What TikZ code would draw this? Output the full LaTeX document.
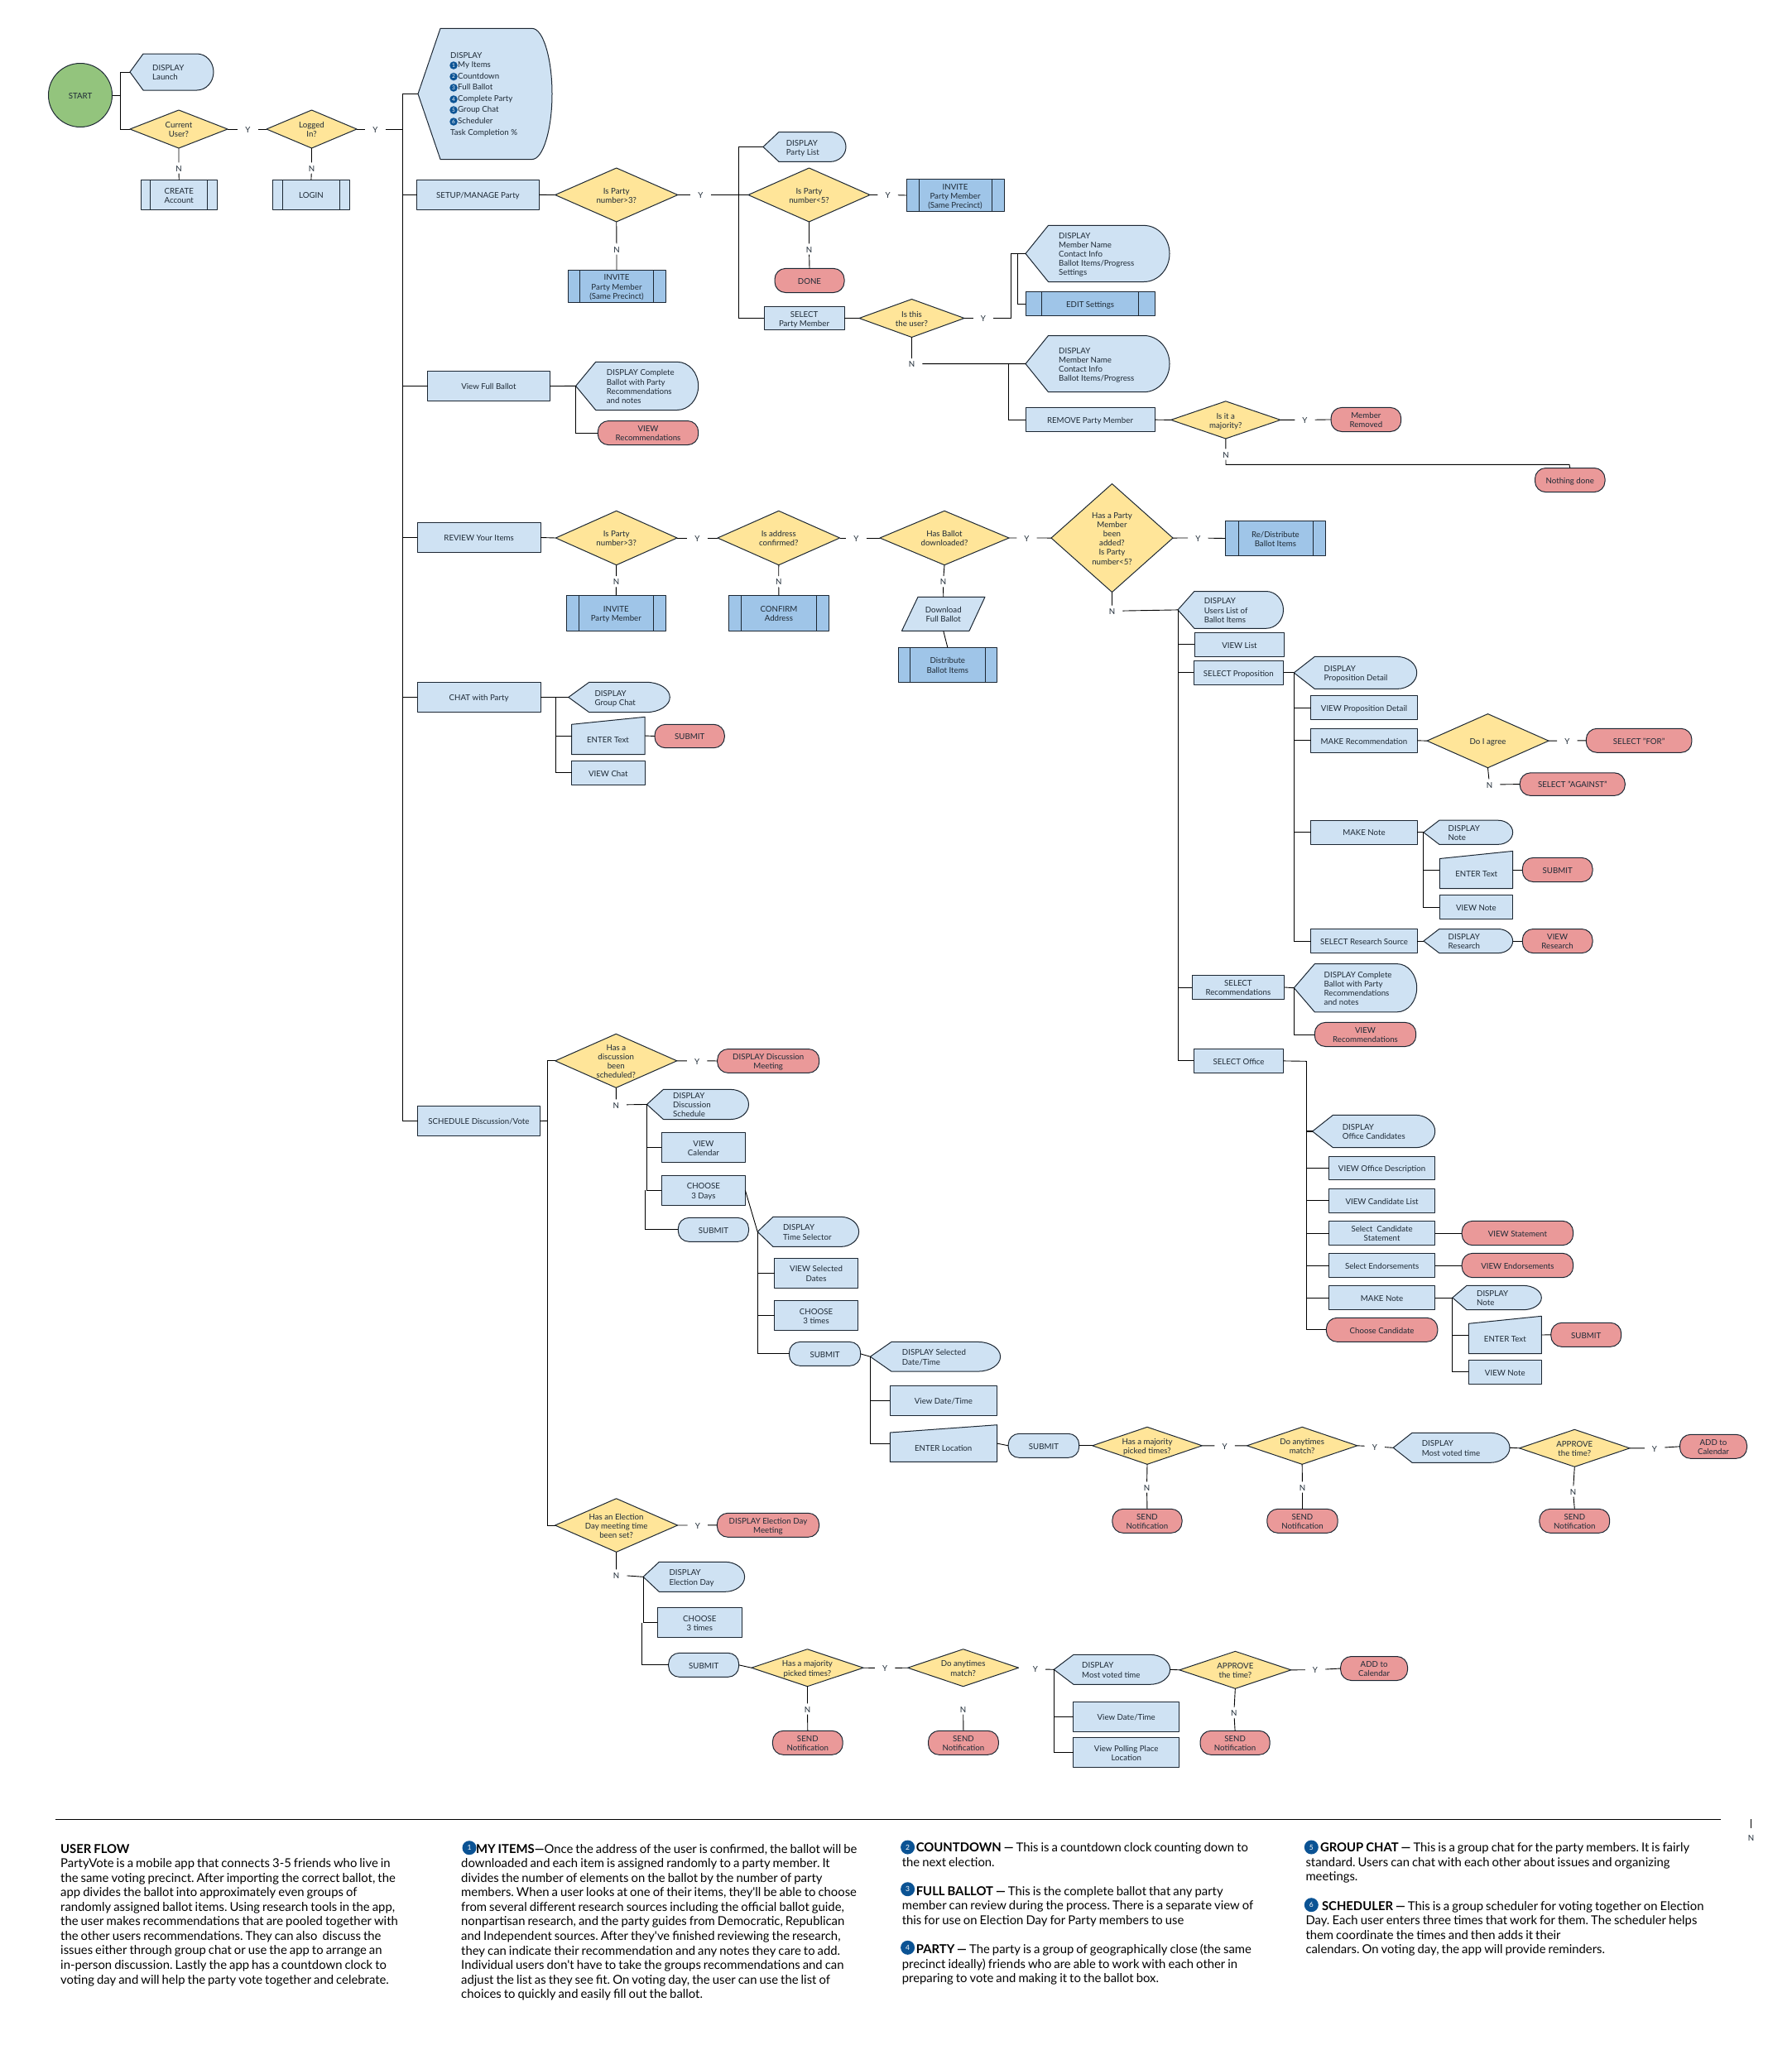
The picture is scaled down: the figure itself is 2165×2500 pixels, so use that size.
\documentclass[tikz,border=0pt]{standalone}
\usepackage{fontspec}
\setmainfont{Lato}
\newfontfamily\ftf[WordSpace=0.8]{Lato}
\usetikzlibrary{shapes.geometric}
\definecolor{lb}{HTML}{CFE2F3}
\definecolor{db}{HTML}{9FC5E8}
\definecolor{yl}{HTML}{FFE599}
\definecolor{rd}{HTML}{EA9999}
\definecolor{gn}{HTML}{93C47D}
\definecolor{nb}{HTML}{0B5394}
\definecolor{edge}{HTML}{1C2733}
\definecolor{txc}{HTML}{1E2A36}
\newcommand\dg{\fontsize{9.7}{11.15}\selectfont}
\newcommand\ft{\ftf\frenchspacing\fontsize{14.85}{17.55}\selectfont}
\newcommand\upr{\rule{0pt}{10.6pt}}
\newcommand\dnr{\rule[-2.2pt]{0pt}{0pt}}
\tikzset{
  x=1pt,y=-1pt,
  txt/.style={font=\dg,align=center,inner sep=0pt,text=txc},
  shp/.style={draw=edge,line width=1pt,line join=round},
  base/.style={shp,inner sep=0pt,outer sep=0pt,font=\dg,align=center,text=txc},
  lite/.style={base,fill=lb},
  dark/.style={base,fill=db},
  pillr/.style={base,fill=rd,rounded corners=13pt},
  pillb/.style={base,fill=lb,rounded corners=13pt},
  ynl/.style={txt,inner xsep=9pt,inner ysep=0pt},
  conn/.style={draw=black,line width=0.9pt},
  thk/.style={draw=black,line width=1.6pt},
  num/.style={circle,fill=nb,inner sep=0pt,minimum size=9.5pt,text=white,font=\fontsize{6.5}{6.5}\selectfont},
  numb/.style={circle,fill=nb,inner sep=0pt,minimum size=17pt,text=white,font=\fontsize{8.5}{8.5}\selectfont},
  foot/.style={font=\ft,align=left,inner sep=0pt,anchor=north west,text=black},
}
\newcommand\Pbox[7]{\node[#6,minimum width={#4-#2},minimum height={#5-#3}] (#1) at ({(#2+#4)/2},{(#3+#5)/2}) {\upr #7\dnr};}
\newcommand\Psub[9]{\node[#8,minimum width={#4-#2},minimum height={#5-#3}] (#1) at ({(#2+#4)/2},{(#3+#5)/2}) {\upr #9\dnr};
  \draw[shp] (#6,#3) -- (#6,#5) (#7,#3) -- (#7,#5);}
\newcommand\Pdisp[9]{%
  \draw[shp,fill=lb] (#2,{(#3+#5)/2}) -- (#6,#3) -- (#7,#3)
    .. controls ({#7+.55*(#4-#7)},#3) and (#4,{(#3+#5)/2-.275*(#5-#3)}) .. (#4,{(#3+#5)/2})
    .. controls (#4,{(#3+#5)/2+.275*(#5-#3)}) and ({#7+.55*(#4-#7)},#5) .. (#7,#5)
    -- (#6,#5) -- cycle;
  \node[inner sep=0pt,outer sep=0pt,minimum width={#4-#2},minimum height={#5-#3}] (#1) at ({(#2+#4)/2},{(#3+#5)/2}) {};
  \node[txt,align=left,anchor=west] (#1t) at (#8,{(#3+#5)/2}) {\upr #9\dnr};}
\newcommand\Pdia[6]{\node[diamond,shp,fill=yl,inner sep=0pt,outer sep=0pt,minimum width={#4-#2},minimum height={#5-#3}] (#1) at ({(#2+#4)/2},{(#3+#5)/2}) {};
  \node[txt] (#1t) at (#1.center) {\upr #6\dnr};}
\newcommand\Pman[9]{%
  \draw[shp,fill=lb] (#2,#3) -- (#5,#4) -- (#5,#6) -- (#2,#6) -- cycle;
  \node[inner sep=0pt,outer sep=0pt,minimum width={#5-#2},minimum height={#6-#4}] (#1) at ({(#2+#5)/2},{(#4+#6)/2}) {};
  \node[txt] (#1t) at (#7,#8) {\upr #9\dnr};}
\newcommand\Pyn[4]{\node[ynl] (#1) at (#2,#3) {\upr #4\dnr};}
\newcommand\Pln[3]{\node[txt,anchor=west] (#1) at #2 {\upr #3\dnr};}
\begin{document}
\begin{tikzpicture}
\useasboundingbox (0,0) rectangle (2165,2500);
% top left
\node[circle,base,fill=gn,minimum size=77pt] (start) at (97,115) {\upr START\dnr};
\Pdisp{dl}{157}{65}{258}{109}{173}{238}{184}{DISPLAY\\Launch}
\Pdia{cu}{157}{133}{275}{179}{Current\\User?}
\Pyn{y1}{299.5}{156}{Y}
\Pdia{li}{322}{133}{431}{179}{Logged\\In?}
\Pyn{y2}{453.5}{156}{Y}
\Pyn{n1}{216}{203}{N}
\Pyn{n2}{376.5}{203}{N}
\Psub{ca}{170}{217.4}{262.5}{253.4}{181}{250.4}{lite}{CREATE\\Account}
\Psub{login}{329.5}{217.4}{422.3}{253.4}{341.5}{410}{lite}{LOGIN}
\draw[shp,fill=lb] (505,113.4) -- (532,34.4) -- (643,34.4)
  .. controls (656.2,34.4) and (667,70.9) .. (667,113.4)
  .. controls (667,156) and (656.2,192.5) .. (643,192.5)
  -- (532,192.5) -- cycle;
\node[inner sep=0pt,outer sep=0pt,minimum width=162pt,minimum height=158.1pt] (md) at (586,113.4) {};
\Pln{mt0}{(544,66)}{DISPLAY}
\node[num] (c1) at (548,79) {1}; \Pln{mt1}{(553,77.7)}{My Items}
\node[num] (c2) at (548,92.6) {2}; \Pln{mt2}{(553,91)}{Countdown}
\node[num] (c3) at (548,106) {3}; \Pln{mt3}{(553,104.5)}{Full Ballot}
\node[num] (c4) at (548,120) {4}; \Pln{mt4}{(553,118)}{Complete Party}
\node[num] (c5) at (548,133) {5}; \Pln{mt5}{(553,131.6)}{Group Chat}
\node[num] (c6) at (548,147) {6}; \Pln{mt6}{(553,145.4)}{Scheduler}
\Pln{mt7}{(544,159)}{Task Completion \%}
% setup
\Pbox{setup}{503.5}{217.4}{651.3}{253.4}{lite}{SETUP/MANAGE Party}
\Pdia{p3}{670.7}{203}{818.8}{268}{Is Party\\number>3?}
\Pyn{y3}{846.3}{235.5}{Y}
\Pyn{n3}{745}{301}{N}
\Psub{inv0}{686}{326.3}{804}{365.4}{700.8}{789.5}{dark}{INVITE\\Party Member\\(Same Precinct)}
\Pdisp{plist}{922}{159.5}{1022}{195.4}{941}{1003}{949.6}{DISPLAY\\Party List}
\Pdia{p5}{904}{203}{1051}{268}{Is Party\\number<5?}
\Pyn{y4}{1072.7}{235.5}{Y}
\Psub{inv1}{1095}{216.5}{1213}{255.5}{1110}{1198.5}{dark}{INVITE\\Party Member\\(Same Precinct)}
\Pyn{n4}{977.5}{301}{N}
\Pbox{done}{936}{324.4}{1020}{353.5}{pillr}{DONE}
\Pbox{smem}{923}{370.3}{1020}{398.6}{lite}{SELECT\\Party Member}
\Pdia{iu}{1038}{361.5}{1165}{407.5}{Is this\\the user?}
\Pyn{y5}{1188}{384.5}{Y}
\Pdisp{dm1}{1239}{272.4}{1413}{340.5}{1266.5}{1382}{1279}{DISPLAY\\Member Name\\Contact Info\\Ballot Items/Progress\\Settings}
\Psub{edit}{1239}{352.3}{1395}{381.8}{1258}{1375}{dark}{EDIT Settings}
\Pyn{n5}{1101.5}{439.6}{N}
\Pdisp{dm2}{1239}{405.5}{1413}{473.7}{1266.5}{1382}{1279}{DISPLAY\\Member Name\\Contact Info\\Ballot Items/Progress}
\Pbox{rem}{1239}{492.8}{1395}{521.5}{lite}{REMOVE Party Member}
\Pdia{maj}{1414.6}{484.8}{1547}{530}{Is it a\\majority?}
\Pyn{y6}{1576.5}{507.4}{Y}
\Pbox{mrem}{1608}{492.4}{1692.7}{521.5}{pillr}{Member\\Removed}
\Pyn{n6}{1481}{549}{N}
\Pbox{nothing}{1854.5}{565.5}{1939}{594.6}{pillr}{Nothing done}
% full ballot
\Pbox{vf}{516.5}{448.5}{664.3}{484.5}{lite}{View Full Ballot}
\Pdisp{dcb}{695.6}{437.3}{843.7}{495.5}{719.7}{818}{732.7}{DISPLAY Complete\\Ballot with Party\\Recommendations\\and notes}
\Pbox{vrec}{722.3}{508.5}{843.7}{537.6}{pillr}{VIEW\\Recommendations}
% review
\Pbox{rv}{504.2}{631.3}{653}{667.7}{lite}{REVIEW Your Items}
\Pdia{q1}{671.4}{617.3}{818}{682.7}{Is Party\\number>3?}
\Pyn{y7}{842.3}{650}{Y}
\Pdia{q2}{867}{617.3}{1014.6}{682.7}{Is address\\confirmed?}
\Pyn{y8}{1034.4}{650}{Y}
\Pdia{q3}{1063}{617.3}{1219}{682.7}{Has Ballot\\downloaded?}
\Pyn{y9}{1240.5}{650}{Y}
\Pdia{q4}{1270}{584.6}{1417}{715.5}{Has a Party\\Member\\been\\added?\\Is Party\\number<5?}
\Pyn{y10}{1447.4}{650}{Y}
\Psub{redist}{1480.4}{629.3}{1601.4}{671.7}{1496.5}{1586}{dark}{Re/Distribute\\Ballot Items}
\Pyn{n7}{744.5}{702.7}{N}
\Psub{inv2}{684.6}{719.3}{804}{762.3}{699.3}{789.5}{dark}{INVITE\\Party Member}
\Pyn{n8}{940.7}{702.7}{N}
\Psub{conf}{880.4}{719.3}{1001.4}{762.3}{895}{986}{dark}{CONFIRM\\Address}
\Pyn{n9}{1139.5}{702.7}{N}
\draw[shp,fill=lb] (1109,721.3) -- (1190,721.3) -- (1171,762.3) -- (1089.5,762.3) -- cycle;
\node[inner sep=0pt,outer sep=0pt,minimum width=100.5pt,minimum height=41pt] (dlb) at (1139.75,741.8) {};
\node[txt] (dlbt) at (dlb.center) {\upr Download\\Full Ballot\dnr};
\Psub{dist}{1085}{782.3}{1204.6}{824.3}{1099.7}{1190}{dark}{Distribute\\Ballot Items}
\Pyn{n10}{1343.5}{738.3}{N}
% chat
\Pbox{chat}{504.2}{824.3}{653}{860.7}{lite}{CHAT with Party}
\Pdisp{dgc}{686.8}{824.3}{809.3}{860.7}{711.8}{780.7}{718.4}{DISPLAY\\Group Chat}
\Pman{et1}{690.5}{875.3}{866.3}{779.2}{911.7}{734.5}{893.7}{ENTER Text}
\Pbox{sb1}{791}{875.3}{875.3}{903.7}{pillr}{SUBMIT}
\Pbox{vchat}{690.5}{919.3}{779.2}{948.3}{lite}{VIEW Chat}
% ballot items
\Pdisp{users}{1423}{714.5}{1550.5}{759.3}{1442.9}{1529.6}{1454.6}{DISPLAY\\Users List of\\Ballot Items}
\Pbox{vl}{1443.4}{764.3}{1551.5}{793.4}{lite}{VIEW List}
\Pbox{sp}{1442.3}{798.4}{1550.5}{827.4}{lite}{SELECT Proposition}
\Pdisp{dpd}{1563.3}{793.4}{1711.7}{832.4}{1588.3}{1687.8}{1599.5}{DISPLAY\\Proposition Detail}
\Pbox{vpd}{1583.7}{840.4}{1712.3}{869.5}{lite}{VIEW Proposition Detail}
\Pbox{mr}{1583.7}{880.3}{1712.3}{909.3}{lite}{MAKE Recommendation}
\Pdia{agree}{1724}{862.6}{1871}{927.7}{Do I agree}
\Pyn{y11}{1893.3}{895.1}{Y}
\Pbox{sfor}{1916.3}{880.3}{2043.9}{909.3}{pillr}{SELECT "FOR"}
\Pyn{n11}{1799.5}{948}{N}
\Pbox{sag}{1836.2}{933.8}{1963.3}{961.4}{pillr}{SELECT "AGAINST"}
\Pbox{mn}{1583.7}{991.2}{1712.3}{1020.3}{lite}{MAKE Note}
\Pdisp{dn}{1719.9}{991.2}{1827.6}{1020.3}{1738.8}{1810}{1749.5}{DISPLAY\\Note}
\Pman{et2}{1739.3}{1037.5}{1028.4}{1827.6}{1073.5}{1783.7}{1055.5}{ENTER Text}
\Pbox{sb2}{1839.3}{1036.4}{1924}{1065.5}{pillr}{SUBMIT}
\Pbox{vn}{1739.3}{1081.5}{1827.6}{1110.6}{lite}{VIEW Note}
\Pbox{srs}{1583.7}{1122.5}{1712.3}{1151.6}{lite}{SELECT Research Source}
\Pdisp{dr}{1719.9}{1122.5}{1827.6}{1151.6}{1738.8}{1810}{1749.5}{DISPLAY\\Research}
\Pbox{vres}{1839.3}{1122.5}{1924}{1151.6}{pillr}{VIEW\\Research}
\Pbox{srec}{1440.3}{1178.4}{1551.5}{1207.5}{lite}{SELECT\\Recommendations}
\Pdisp{dcr}{1563.3}{1164.6}{1711.7}{1222.8}{1588.3}{1687.8}{1599.5}{DISPLAY Complete\\Ballot with Party\\Recommendations\\and notes}
\Pbox{vrc2}{1588.3}{1235.4}{1710.7}{1264.5}{pillr}{VIEW\\Recommendations}
\Pbox{so}{1442.4}{1267.4}{1550.7}{1296.4}{lite}{SELECT Office}
\Pdisp{doc}{1585.6}{1347.3}{1733.7}{1386.7}{1610.5}{1710}{1621.6}{DISPLAY\\Office Candidates}
\Pbox{vod}{1605.5}{1397.3}{1733.7}{1425.7}{lite}{VIEW Office Description}
\Pbox{vcl}{1605.5}{1436.3}{1733.7}{1465.3}{lite}{VIEW Candidate List}
\Pbox{scs}{1605.5}{1475.3}{1733.7}{1504.7}{lite}{Select~ Candidate\\Statement}
\Pbox{sen}{1605.5}{1514.3}{1733.7}{1543.7}{lite}{Select Endorsements}
\Pbox{mkn}{1605.5}{1553.3}{1733.7}{1582.7}{lite}{MAKE Note}
\Pbox{cc}{1602.4}{1592.3}{1736.8}{1621.3}{pillr}{Choose Candidate}
\Pbox{vs}{1766.2}{1475.3}{1900.6}{1504.7}{pillr}{VIEW Statement}
\Pbox{ve}{1766.2}{1514.3}{1900.6}{1543.7}{pillr}{VIEW Endorsements}
\Pdisp{dnn}{1754.8}{1553.3}{1862.3}{1582.7}{1772}{1840}{1783.9}{DISPLAY\\Note}
\Pman{et3}{1774.3}{1599.3}{1590.3}{1862.3}{1635.7}{1818.3}{1617.7}{ENTER Text}
\Pbox{sb3}{1873.8}{1598.3}{1958.7}{1627.3}{pillr}{SUBMIT}
\Pbox{vnn}{1774.3}{1643.3}{1862.3}{1672.3}{lite}{VIEW Note}
% schedule
\Pbox{sc}{504.5}{1336.4}{652.4}{1372.5}{lite}{SCHEDULE Discussion/Vote}
\Pdia{ds}{670.8}{1249.3}{817.8}{1314.3}{Has a\\discussion\\been\\scheduled?}
\Pyn{y12}{842.2}{1281.8}{Y}
\Pbox{ddm}{866.7}{1267.5}{989.7}{1296.4}{pillr}{DISPLAY Discussion\\Meeting}
\Pyn{n12}{744.3}{1335}{N}
\Pdisp{dds}{781.5}{1316.4}{904.5}{1352.5}{801.4}{883}{813}{DISPLAY\\Discussion\\Schedule}
\Pbox{vc}{799.4}{1368.2}{900.4}{1404.6}{lite}{VIEW\\Calendar}
\Pbox{cd}{799.4}{1420.3}{900.4}{1456.4}{lite}{CHOOSE\\3 Days}
\Pbox{sub1}{819.3}{1471.4}{904.5}{1500.3}{pillb}{SUBMIT}
\Pdisp{dts}{915.2}{1470.3}{1037.6}{1506.4}{934}{1015.7}{945.8}{DISPLAY\\Time Selector}
\Pbox{vsd}{935.6}{1520.3}{1036.6}{1556.4}{lite}{VIEW Selected\\Dates}
\Pbox{ch3}{935.6}{1571.4}{1036.6}{1607.5}{lite}{CHOOSE\\3 times}
\Pbox{sub2}{953.5}{1621.4}{1039.7}{1650.3}{pillb}{SUBMIT}
\Pdisp{dsd}{1051.4}{1621.4}{1208.6}{1657.1}{1077}{1181.5}{1089.7}{DISPLAY Selected\\Date/Time}
\Pbox{vdt}{1075.4}{1674.6}{1204.5}{1710.3}{lite}{View Date/Time}
\Pman{enl}{1075.4}{1731}{1721.7}{1204.5}{1766.4}{1139.7}{1748.9}{ENTER Location}
\Pbox{sub3}{1218.2}{1732.3}{1303.7}{1761.3}{pillb}{SUBMIT}
\Pdia{mj}{1319.7}{1724.3}{1452.3}{1769.3}{Has a majority\\picked times?}
\Pyn{y13}{1479.7}{1747}{Y}
\Pdia{am}{1506.5}{1724.3}{1639.8}{1769.3}{Do anytimes\\match?}
\Pyn{y14}{1660.9}{1747.8}{Y}
\Pdisp{dmv}{1683.2}{1731.3}{1824}{1767.3}{1706}{1800.6}{1717.6}{DISPLAY\\Most voted time}
\Pdia{app}{1835.6}{1727.3}{1969}{1772.3}{APPROVE\\the time?}
\Pyn{y15}{1999}{1749.8}{Y}
\Pbox{add}{2029.5}{1733.3}{2110.5}{1762.3}{pillr}{ADD to\\Calendar}
\Pyn{n13}{1385.5}{1797}{N}
\Pbox{sn1}{1343.9}{1823.3}{1428}{1852.3}{pillr}{SEND\\Notification}
\Pyn{n14}{1573.5}{1797}{N}
\Pbox{sn2}{1530.8}{1823.3}{1616.2}{1852.3}{pillr}{SEND\\Notification}
\Pyn{n15}{1900.5}{1802}{N}
\Pbox{sn3}{1859.9}{1823.3}{1944.7}{1852.3}{pillr}{SEND\\Notification}
% election
\Pdia{el}{670.6}{1810.7}{818.6}{1875.3}{Has an Election\\Day meeting time\\been set?}
\Pyn{y16}{842.8}{1843}{Y}
\Pbox{ded}{866.4}{1828.3}{989.5}{1857.3}{pillr}{DISPLAY Election Day\\Meeting}
\Pyn{n16}{744.6}{1903}{N}
\Pdisp{de}{777.1}{1887.3}{899.6}{1923.3}{796.3}{876}{808.4}{DISPLAY\\Election Day}
\Pbox{ch4}{794.3}{1942.7}{896.4}{1978.3}{lite}{CHOOSE\\3 times}
\Pbox{sub4}{807.7}{1997.3}{892.6}{2026.3}{pillb}{SUBMIT}
\Pdia{mj2}{907.9}{1992.7}{1043}{2037.7}{Has a majority\\picked times?}
\Pyn{y17}{1069.2}{2015.5}{Y}
\Pdia{am2}{1096.7}{1992.7}{1230.6}{2037.7}{Do anytimes\\match?}
\Pyn{y18}{1251}{2016.7}{Y}
\Pdisp{dmv2}{1273.3}{1999.3}{1413.6}{2035.3}{1297}{1389.4}{1307}{DISPLAY\\Most voted time}
\Pbox{vd2}{1296.9}{2056.3}{1424.5}{2092.7}{lite}{View Date/Time}
\Pbox{vp2}{1296.9}{2099.3}{1424.5}{2135.7}{lite}{View Polling Place\\Location}
\Pdia{app2}{1425}{1995.3}{1559.7}{2040.3}{APPROVE\\the time?}
\Pyn{y19}{1589}{2017.7}{Y}
\Pbox{add2}{1619.6}{2001.5}{1700.6}{2030.5}{pillr}{ADD to\\Calendar}
\Pyn{n17}{975.5}{2065}{N}
\Pbox{sn4}{933.4}{2091.3}{1018.2}{2120.3}{pillr}{SEND\\Notification}
\Pyn{n18}{1163.6}{2065}{N}
\Pbox{sn5}{1121.5}{2091.3}{1206.4}{2120.3}{pillr}{SEND\\Notification}
\Pyn{n19}{1490.8}{2069.3}{N}
\Pbox{sn6}{1450}{2091.3}{1534.2}{2120.3}{pillr}{SEND\\Notification}
% junctions
\coordinate (js) at (145.5,115);
\coordinate (jt) at (486.5,156);
\coordinate (j2) at (892,235.5);
\coordinate (j3) at (1221,384.5);
\coordinate (j4) at (1229.5,306.4);
\coordinate (j5) at (1218,439.6);
\coordinate (cn) at (1896,561.3);
\coordinate (j7) at (1578.3,1282.3);
\coordinate (j8) at (661.6,1354.4);
\coordinate (j9) at (779.5,1438.4);
\coordinate (j10) at (775,1960.5);
% connectors top
\draw[conn] (start.east) -- (js);
\draw[conn] (js) |- (dl.west);
\draw[conn] (js) |- (cu.west);
\draw[conn] (cu.east) -- (y1) -- (li.west);
\draw[conn] (li.east) -- (y2) -- (jt);
\draw[conn] (cu.south) -- (n1) -- (ca.north);
\draw[conn] (li.south) -- (n2) -- (login.north);
\draw[thk] (jt) |- (md.west);
\draw[thk] (jt) |- (setup.west);
\draw[thk] (jt) |- (vf.west);
\draw[conn] (jt) |- (rv.west);
\draw[conn] (jt) |- (chat.west);
\draw[conn] (jt) |- (sc.west);
% setup
\draw[conn] (setup.east) -- (p3.west);
\draw[conn] (p3.east) -- (y3);
\draw[thk] (y3) -- (j2);
\draw[conn] (j2) -- (p5.west);
\draw[conn] (j2) |- (plist.west);
\draw[conn] (j2) |- (smem.west);
\draw[conn] (p5.east) -- (y4) -- (inv1.west);
\draw[conn] (p3.south) -- (n3) -- (inv0.north);
\draw[conn] (p5.south) -- (n4) -- (done.north);
\draw[conn] (smem.east) -- (iu.west);
\draw[conn] (iu.east) -- (y5) -- (j3);
\draw[conn] (j3) |- (dm1.west);
\draw[conn] (j4) |- (edit.west);
\draw[conn] (iu.south) -- (n5) -- (dm2.west);
\draw[conn] (j5) |- (rem.west);
\draw[conn] (rem.east) -- (maj.west);
\draw[conn] (maj.east) -- (y6) -- (mrem.west);
\draw[conn] (maj.south) -- (n6);
\draw[conn] (n6.south) |- (cn) -- (nothing.north);
% full ballot
\draw[conn] (vf.east) -- (dcb.west);
\draw[conn] (dcb.west) |- (vrec.west);
% review
\draw[conn] (rv.east) -- (q1.west);
\draw[conn] (q1.east) -- (y7) -- (q2.west);
\draw[conn] (q2.east) -- (y8) -- (q3.west);
\draw[conn] (q3.east) -- (y9) -- (q4.west);
\draw[conn] (q4.east) -- (y10) -- (redist.west);
\draw[conn] (q1.south) -- (n7) -- (inv2.north);
\draw[conn] (q2.south) -- (n8) -- (conf.north);
\draw[conn] (q3.south) -- (n9) -- (dlb.north);
\draw[conn] (dlb.south) -- (dist.north);
\draw[conn] (q4.south) -- (n10) -- (users.west);
% chat
\draw[conn] (chat.east) -- (dgc.west);
\coordinate (jc) at (671.4,842.5);
\draw[conn] (jc) |- (et1.west);
\draw[conn] (jc) |- (vchat.west);
\draw[conn] (et1.east) -- (sb1.west);
% items
\draw[conn] (users.west) |- (vl.west);
\draw[conn] (users.west) |- (sp.west);
\draw[conn] (users.west) |- (srec.west);
\draw[conn] (users.west) |- (so.west);
\draw[conn] (sp.east) -- (dpd.west);
\draw[conn] (dpd.west) |- (vpd.west);
\draw[conn] (dpd.west) |- (mr.west);
\draw[conn] (dpd.west) |- (mn.west);
\draw[conn] (dpd.west) |- (srs.west);
\draw[conn] (mr.east) -- (agree.west);
\draw[conn] (agree.east) -- (y11) -- (sfor.west);
\draw[conn] (agree.south) -- (n11) -- (sag.west);
\draw[conn] (mn.east) -- (dn.west);
\draw[conn] (dn.west) |- (et2.west);
\draw[conn] (dn.west) |- (vn.west);
\draw[conn] (et2.east) -- (sb2.west);
\draw[conn] (srs.east) -- (dr.west);
\draw[conn] (dr.east) -- (vres.west);
\draw[conn] (srec.east) -- (dcr.west);
\draw[conn] (dcr.west) |- (vrc2.west);
\draw[conn] (so.east) -- (j7);
\draw[thk] (j7) |- (doc.west);
\draw[conn] (j7) |- (vod.west);
\draw[conn] (j7) |- (vcl.west);
\draw[conn] (j7) |- (scs.west);
\draw[conn] (j7) |- (sen.west);
\draw[conn] (j7) |- (mkn.west);
\draw[conn] (j7) |- (cc.west);
\draw[conn] (scs.east) -- (vs.west);
\draw[conn] (sen.east) -- (ve.west);
\draw[conn] (mkn.east) -- (dnn.west);
\draw[conn] (dnn.west) |- (et3.west);
\draw[conn] (dnn.west) |- (vnn.west);
\draw[conn] (et3.east) -- (sb3.west);
% schedule
\draw[conn] (sc.east) -- (j8);
\draw[conn] (j8) |- (ds.west);
\draw[conn] (j8) |- (el.west);
\draw[conn] (ds.east) -- (y12) -- (ddm.west);
\draw[conn] (ds.south) -- (n12) -- (dds.west);
\draw[conn] (dds.west) |- (vc.west);
\draw[conn] (dds.west) |- (cd.west);
\draw[conn] (j9) |- (sub1.west);
\draw[conn] (cd.east) -- (dts.west);
\draw[conn] (dts.west) |- (vsd.west);
\draw[conn] (dts.west) |- (ch3.west);
\draw[conn] (dts.west) |- (sub2.west);
\draw[conn] (sub2.east) -- (dsd.west);
\draw[conn] (dsd.west) |- (vdt.west);
\draw[conn] (dsd.west) |- (enl.west);
\draw[conn] (enl.east) -- (sub3.west);
\draw[conn] (sub3.east) -- (mj.west);
\draw[conn] (mj.east) -- (y13) -- (am.west);
\draw[conn] (am.east) -- (y14) -- (dmv.west);
\draw[conn] (dmv.east) -- (app.west);
\draw[conn] (app.east) -- (y15) -- (add.west);
\draw[conn] (mj.south) -- (n13) -- (sn1.north);
\draw[conn] (am.south) -- (n14) -- (sn2.north);
\draw[conn] (app.south) -- (n15) -- (sn3.north);
% election
\draw[conn] (el.east) -- (y16) -- (ded.west);
\draw[conn] (el.south) -- (n16) -- (de.west);
\draw[conn] (de.west) |- (ch4.west);
\draw[conn] (j10) |- (sub4.west);
\draw[conn] (sub4.east) -- (mj2.west);
\draw[conn] (mj2.east) -- (y17) -- (am2.west);
\draw[conn] (y18) -- (dmv2.west);
\draw[conn] (dmv2.west) |- (vd2.west);
\draw[conn] (dmv2.west) |- (vp2.west);
\draw[conn] (dmv2.east) -- (app2.west);
\draw[conn] (app2.east) -- (y19) -- (add2.west);
\draw[conn] (mj2.south) -- (n17) -- (sn4.north);
\draw[conn] (n18) -- (sn5.north);
\draw[conn] (app2.south) -- (n19) -- (sn6.north);
% footer
\coordinate (r1) at (66.6,2198.3);
\coordinate (r2) at (2079,2198.3);
\draw[conn] (r1) -- (r2);
\coordinate (st) at (2115.6,2198.3);
\node[font=\dg,inner sep=0pt,inner ysep=8pt,text=txc] (ns) at (2115.6,2220.7) {N};
\draw[conn] (st) -- (ns);
\node[foot] (f1) at (73,2228) {\textbf{USER FLOW}\\PartyVote is a mobile app that connects 3-5 friends who live in\\the same voting precinct. After importing the correct ballot, the\\app divides the ballot into approximately even groups of\\randomly assigned ballot items. Using research tools in the app,\\the user makes recommendations that are pooled together with\\the other users recommendations. They can also~ discuss the\\issues either through group chat or use the app to arrange an\\in-person discussion. Lastly the app has a countdown clock to\\voting day and will help the party vote together and celebrate.};
\node[numb] (fc1) at (567,2232.7) {1};
\node[foot] (f2) at (557,2228) {\hspace*{18pt}\textbf{MY ITEMS—}Once the address of the user is confirmed, the ballot will be\\downloaded and each item is assigned randomly to a party member. It\\divides the number of elements on the ballot by the number of party\\members. When a user looks at one of their items, they'll be able to choose\\from several different research sources including the official ballot guide,\\nonpartisan research, and the party guides from Democratic, Republican\\and Independent sources. After they've finished reviewing the research,\\they can indicate their recommendation and any notes they care to add.\\Individual users don't have to take the groups recommendations and can\\adjust the list as they see fit. On voting day, the user can use the list of\\choices to quickly and easily fill out the ballot.};
\node[numb] (fc2) at (1096.6,2232) {2};
\node[foot] (f3) at (1089.6,2226.5) {\hspace*{17pt}\textbf{COUNTDOWN —} This is a countdown clock counting down to\\the next election.};
\node[numb] (fc3) at (1096.6,2282.7) {3};
\node[foot] (f4) at (1089.6,2279) {\hspace*{17pt}\textbf{FULL BALLOT —} This is the complete ballot that any party\\member can review during the process. There is a separate view of\\this for use on Election Day for Party members to use};
\node[numb] (fc4) at (1096.6,2353.3) {4};
\node[foot] (f5) at (1089.6,2349) {\hspace*{17pt}\textbf{PARTY —} The party is a group of geographically close (the same\\precinct ideally) friends who are able to work with each other in\\preparing to vote and making it to the ballot box.};
\node[numb] (fc5) at (1584.3,2232) {5};
\node[foot] (f6) at (1577.3,2226.5) {\hspace*{17.5pt}\textbf{GROUP CHAT —} This is a group chat for the party members. It is fairly\\standard. Users can chat with each other about issues and organizing\\meetings.};
\node[numb] (fc6) at (1584.3,2301.7) {6};
\node[foot] (f7) at (1577.3,2297) {\hspace*{19.5pt}\textbf{SCHEDULER —} This is a group scheduler for voting together on Election\\Day. Each user enters three times that work for them. The scheduler helps\\them coordinate the times and then adds it their\\calendars. On voting day, the app will provide reminders.};
\end{tikzpicture}
\end{document}
